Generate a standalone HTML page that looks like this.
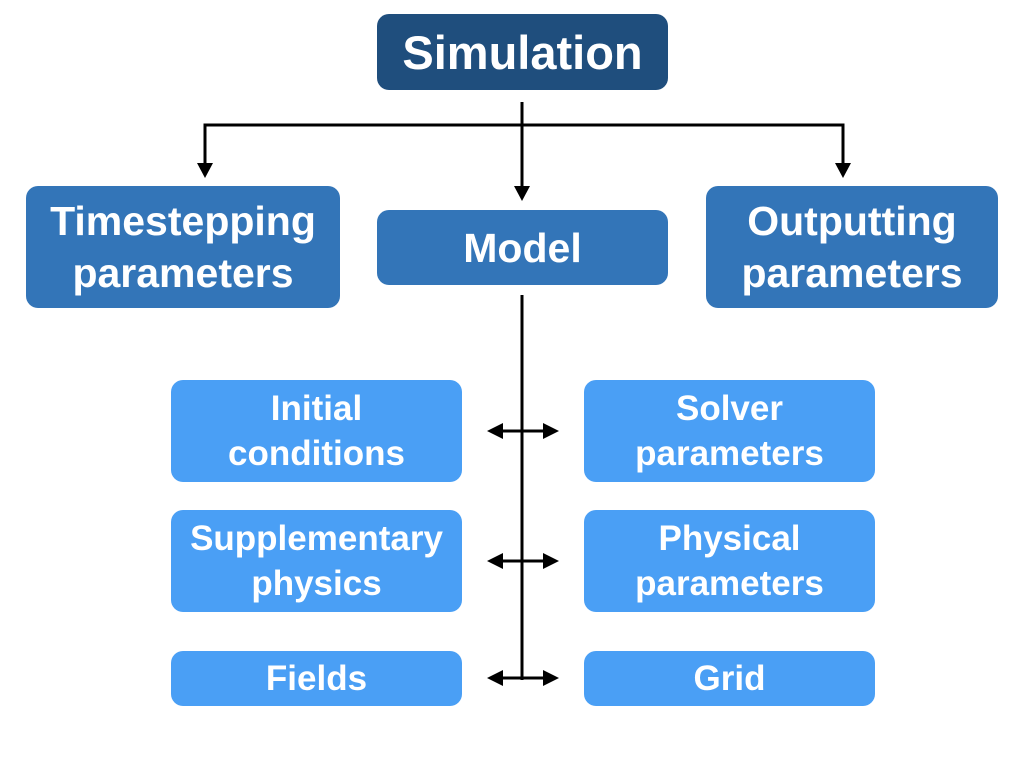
<!DOCTYPE html>
<html><head><style>
body{margin:0;width:1024px;height:768px;background:#fff;position:relative;overflow:hidden;font-family:"Liberation Sans",sans-serif}
.b{position:absolute;display:flex;align-items:center;justify-content:center;text-align:center;color:#fff;border-radius:12px;font-weight:bold}
.d{background:#1f4e7d;font-size:47px}
.m{background:#3375b8;font-size:41px;line-height:52px}
.l{background:#4a9ff5;font-size:35px;line-height:45px}
</style></head><body>
<svg width="1024" height="768" style="position:absolute;left:0;top:0">
<g stroke="#000" stroke-width="3" fill="none">
<line x1="522" y1="102" x2="522" y2="188"/>
<polyline points="205,166 205,125 843,125 843,166"/>
<line x1="522" y1="295" x2="522" y2="680"/>
<line x1="500" y1="431" x2="546" y2="431"/>
<line x1="500" y1="561" x2="546" y2="561"/>
<line x1="500" y1="678" x2="546" y2="678"/>
</g>
<g fill="#000">
<polygon points="514,186 530,186 522,201"/>
<polygon points="197,163 213,163 205,178"/>
<polygon points="835,163 851,163 843,178"/>
<polygon points="487,431 503,423 503,439"/><polygon points="559,431 543,423 543,439"/>
<polygon points="487,561 503,553 503,569"/><polygon points="559,561 543,553 543,569"/>
<polygon points="487,678 503,670 503,686"/><polygon points="559,678 543,670 543,686"/>
</g>
</svg>
<div class="b d" style="left:377px;top:14px;width:291px;height:76px">Simulation</div>
<div class="b m" style="left:377px;top:210px;width:291px;height:75px">Model</div>
<div class="b m" style="left:26px;top:186px;width:314px;height:122px">Timestepping<br>parameters</div>
<div class="b m" style="left:706px;top:186px;width:292px;height:122px">Outputting<br>parameters</div>
<div class="b l" style="left:171px;top:380px;width:291px;height:102px">Initial<br>conditions</div>
<div class="b l" style="left:584px;top:380px;width:291px;height:102px">Solver<br>parameters</div>
<div class="b l" style="left:171px;top:510px;width:291px;height:102px">Supplementary<br>physics</div>
<div class="b l" style="left:584px;top:510px;width:291px;height:102px">Physical<br>parameters</div>
<div class="b l" style="left:171px;top:651px;width:291px;height:55px">Fields</div>
<div class="b l" style="left:584px;top:651px;width:291px;height:55px">Grid</div>
</body></html>
